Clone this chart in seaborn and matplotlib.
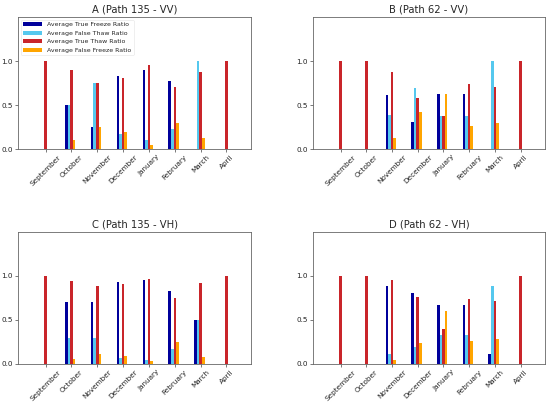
import numpy as np
import pandas as pd
import matplotlib
matplotlib.use("Agg")
import matplotlib.pyplot as plt
import seaborn as sns

months = ["September", "October", "November", "December", "January", "February", "March", "April"]
series = ["Average True Freeze Ratio", "Average False Thaw Ratio",
          "Average True Thaw Ratio", "Average False Freeze Ratio"]
colors = ["#00009b", "#55c8ee", "#c9252a", "#ffa500"]
titles = ["A (Path 135 - VV)", "B (Path 62 - VV)", "C (Path 135 - VH)", "D (Path 62 - VH)"]

# A (Path 135 - VV)
a_true_freeze = [0, 0.50, 0.25, 0.83, 0.90, 0.77, 0, 0]
a_false_thaw = [0, 0.50, 0.75, 0.17, 0.10, 0.23, 1.00, 0]
a_true_thaw = [1.00, 0.90, 0.75, 0.81, 0.95, 0.70, 0.87, 1.00]
a_false_freeze = [0, 0.10, 0.25, 0.19, 0.05, 0.30, 0.13, 0]

# B (Path 62 - VV)
b_true_freeze = [0, 0, 0.61, 0.31, 0.62, 0.63, 0, 0]
b_false_thaw = [0, 0, 0.39, 0.69, 0.38, 0.37, 1.00, 0]
b_true_thaw = [1.00, 1.00, 0.88, 0.58, 0.37, 0.74, 0.70, 1.00]
b_false_freeze = [0, 0, 0.12, 0.42, 0.63, 0.26, 0.30, 0]

# C (Path 135 - VH)
c_true_freeze = [0, 0.70, 0.70, 0.93, 0.95, 0.83, 0.50, 0]
c_false_thaw = [0, 0.30, 0.30, 0.07, 0.05, 0.17, 0.50, 0]
c_true_thaw = [1.00, 0.94, 0.89, 0.91, 0.97, 0.75, 0.92, 1.00]
c_false_freeze = [0, 0.06, 0.11, 0.09, 0.03, 0.25, 0.08, 0]

# D (Path 62 - VH)
d_true_freeze = [0, 0, 0.89, 0.81, 0.67, 0.67, 0.11, 0]
d_false_thaw = [0, 0, 0.11, 0.19, 0.33, 0.33, 0.89, 0]
d_true_thaw = [1.00, 1.00, 0.96, 0.76, 0.40, 0.74, 0.72, 1.00]
d_false_freeze = [0, 0, 0.04, 0.24, 0.60, 0.26, 0.28, 0]

panels = [
    [a_true_freeze, a_false_thaw, a_true_thaw, a_false_freeze],
    [b_true_freeze, b_false_thaw, b_true_thaw, b_false_freeze],
    [c_true_freeze, c_false_thaw, c_true_thaw, c_false_freeze],
    [d_true_freeze, d_false_thaw, d_true_thaw, d_false_freeze],
]

sns.set_style("white")
plt.rcParams["font.family"] = ["DejaVu Sans"]

fig = plt.figure(figsize=(5.5, 4.05), dpi=100)
rects = [
    [18 / 550, 1 - 149 / 405, 233 / 550, 132 / 405],
    [313 / 550, 1 - 149 / 405, 232 / 550, 132 / 405],
    [18 / 550, 1 - 364 / 405, 233 / 550, 132 / 405],
    [313 / 550, 1 - 364 / 405, 232 / 550, 132 / 405],
]

idx = np.arange(len(months))
for k, (vals, title, rect) in enumerate(zip(panels, titles, rects)):
    ax = fig.add_axes(rect)
    rows = []
    for s, v in zip(series, vals):
        for i, val in enumerate(v):
            rows.append({"pos": i - 0.05, "value": val, "series": s})
    df = pd.DataFrame(rows)
    sns.barplot(data=df, x="pos", y="value", hue="series", hue_order=series,
                palette=colors, native_scale=True, width=0.4, dodge=True,
                errorbar=None, saturation=1, linewidth=0, ax=ax,
                legend=(k == 0))
    ax.set_xlim(-1.07, 7.95)
    ax.set_ylim(0, 1.5)
    ax.set_yticks([0.0, 0.5, 1.0])
    ax.set_yticklabels(["0.0", "0.5", "1.0"])
    ax.set_xticks(idx)
    ax.set_xticklabels(months, rotation=45, ha="center", rotation_mode="default")
    ax.tick_params(axis="both", labelsize=5.2, length=2, width=0.5, pad=1.5,
                   color="#444444", labelcolor="#222222", bottom=True, left=True)
    ax.set_xlabel("")
    ax.set_ylabel("")
    ax.set_title(title, fontsize=7.2, pad=3)
    for sp in ax.spines.values():
        sp.set_linewidth(0.6)
        sp.set_color("#666666")
    if k == 0:
        sns.move_legend(ax, "upper left", title=None, fontsize=4.5,
                        frameon=True, handlelength=3.0, borderaxespad=0.4,
                        borderpad=0.4)
        leg = ax.get_legend()
        leg.get_frame().set_linewidth(0.4)
        leg.get_frame().set_edgecolor("#dddddd")

fig.savefig("out.png", dpi=100)
